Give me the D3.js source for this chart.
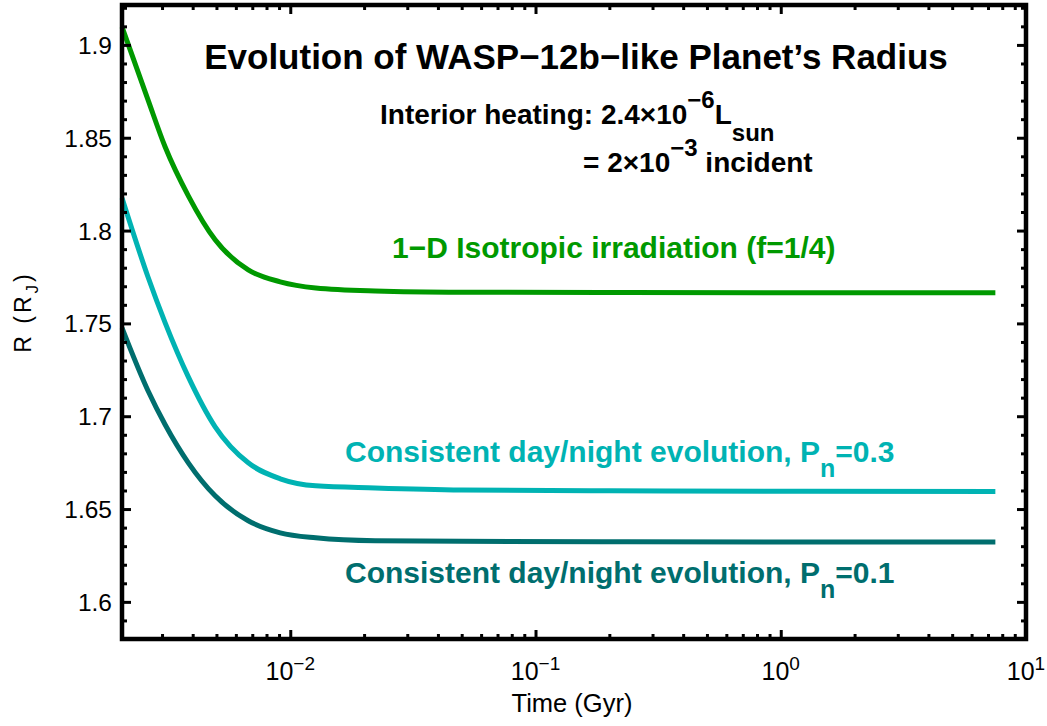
<!DOCTYPE html>
<html>
<head>
<meta charset="utf-8">
<script src="https://cdn.jsdelivr.net/npm/d3@7"></script>
<style>
  body { margin: 0; background: #fff; }
  svg { font-family: 'Liberation Sans', Arial, sans-serif; }
</style>
</head>
<body>
<div id="chart-area"></div>
<script>
'use strict';
const svg_width = 1047;
const svg_height = 726;

// time in Gyr, shared by all three runs
const time_gyr = [0.00206, 0.00263, 0.00309, 0.00384, 0.00494, 0.00674, 0.0091, 0.0127, 0.0222, 0.05, 0.2, 1, 7.5];
const r_isotropic = [1.9097, 1.8704, 1.845, 1.8187, 1.795, 1.7788, 1.7724, 1.7691, 1.7675, 1.7668, 1.7666, 1.7665, 1.7665];
const r_pn03 = [1.8176, 1.775, 1.7503, 1.7212, 1.6943, 1.6749, 1.6663, 1.6625, 1.6614, 1.6603, 1.6598, 1.6596, 1.6595];
const r_pn01 = [1.7476, 1.7137, 1.6954, 1.6749, 1.6571, 1.6437, 1.6372, 1.6345, 1.6329, 1.6326, 1.6324, 1.6323, 1.6323];

const x_major = [0.01, 0.1, 1, 10];
const x_major_exp = ['−2', '−1', '0', '1'];
const y_major = [1.6, 1.65, 1.7, 1.75, 1.8, 1.85, 1.9];
const y_major_labels = ['1.6', '1.65', '1.7', '1.75', '1.8', '1.85', '1.9'];

const plot_left = 122, plot_right = 1026, plot_top = 5, plot_bottom = 639;

const svg = d3.select('#chart-area')
  .append('svg')
    .attr('width', svg_width)
    .attr('height', svg_height);

const x_scale = d3.scaleLog().domain([0.00206, 10]).range([plot_left, plot_right]);
const y_scale = d3.scaleLinear().domain([1.58, 1.9215]).range([plot_bottom, plot_top]);

// minor ticks
const x_minor = [];
[0.001, 0.01, 0.1, 1].forEach(d => {
  for (let k = 2; k <= 9; k++) {
    const v = d * k;
    if (v > 0.00206 && v < 10) x_minor.push(v);
  }
});
const y_minor = d3.range(158, 193).map(v => v / 100).filter(v => y_major.indexOf(v) < 0);

const series = [
  { values: r_isotropic, color: '#009900' },
  { values: r_pn03, color: '#00b3b3' },
  { values: r_pn01, color: '#006e6e' }
];

const line = d3.line()
  .x((d, i) => x_scale(time_gyr[i]))
  .y(d => y_scale(d))
  .curve(d3.curveMonotoneX);

svg.selectAll('path.curve').data(series).enter()
  .append('path')
    .attr('class', 'curve')
    .attr('d', d => line(d.values))
    .attr('fill', 'none')
    .attr('stroke', d => d.color)
    .attr('stroke-width', 5);

function styleAxis(g) {
  g.select('.domain').remove();
  g.selectAll('.tick line').attr('stroke', '#000').attr('stroke-width', 3);
  g.selectAll('.tick text').remove();
}

// bottom / top axes (ticks pointing inward)
svg.append('g').attr('transform', `translate(0,${plot_bottom})`)
  .call(d3.axisBottom(x_scale).tickValues(x_major).tickSize(-9).tickFormat(''))
  .call(styleAxis);
svg.append('g').attr('transform', `translate(0,${plot_bottom})`)
  .call(d3.axisBottom(x_scale).tickValues(x_minor).tickSize(-5).tickFormat(''))
  .call(styleAxis);
svg.append('g').attr('transform', `translate(0,${plot_top})`)
  .call(d3.axisTop(x_scale).tickValues(x_major).tickSize(-9).tickFormat(''))
  .call(styleAxis);
svg.append('g').attr('transform', `translate(0,${plot_top})`)
  .call(d3.axisTop(x_scale).tickValues(x_minor).tickSize(-5).tickFormat(''))
  .call(styleAxis);

// left / right axes
svg.append('g').attr('transform', `translate(${plot_left},0)`)
  .call(d3.axisLeft(y_scale).tickValues(y_major).tickSize(-9).tickFormat(''))
  .call(styleAxis);
svg.append('g').attr('transform', `translate(${plot_left},0)`)
  .call(d3.axisLeft(y_scale).tickValues(y_minor).tickSize(-5).tickFormat(''))
  .call(styleAxis);
svg.append('g').attr('transform', `translate(${plot_right},0)`)
  .call(d3.axisRight(y_scale).tickValues(y_major).tickSize(-9).tickFormat(''))
  .call(styleAxis);
svg.append('g').attr('transform', `translate(${plot_right},0)`)
  .call(d3.axisRight(y_scale).tickValues(y_minor).tickSize(-5).tickFormat(''))
  .call(styleAxis);

// frame
svg.append('rect')
  .attr('x', plot_left).attr('y', plot_top)
  .attr('width', plot_right - plot_left).attr('height', plot_bottom - plot_top)
  .attr('fill', 'none').attr('stroke', '#000').attr('stroke-width', 4.5);

// y tick labels
svg.selectAll('text.ylab').data(y_major).enter()
  .append('text')
    .attr('class', 'ylab')
    .attr('x', plot_left - 10)
    .attr('y', d => y_scale(d) + 9)
    .attr('text-anchor', 'end')
    .attr('font-size', 24.5)
    .text((d, i) => y_major_labels[i]);

// x tick labels with exponents
const xl = svg.selectAll('text.xlab').data(x_major).enter()
  .append('text')
    .attr('class', 'xlab')
    .attr('x', d => x_scale(d))
    .attr('y', 680)
    .attr('text-anchor', 'middle')
    .attr('font-size', 25);
xl.append('tspan').text('10');
xl.append('tspan').attr('dy', -10).attr('font-size', 19).text((d, i) => x_major_exp[i]);

// axis titles
svg.append('text')
  .attr('x', 572).attr('y', 712)
  .attr('text-anchor', 'middle')
  .attr('font-size', 25.5)
  .text('Time (Gyr)');

const ylab = svg.append('text')
  .attr('transform', 'translate(31,312) rotate(-90)')
  .attr('text-anchor', 'middle')
  .attr('letter-spacing', 3)
  .attr('font-size', 23);
ylab.append('tspan').text('R (R');
ylab.append('tspan').attr('dy', 7).attr('font-size', 17).text('J');
ylab.append('tspan').attr('dy', -7).text(')');

// annotations
const ann = svg.append('g').attr('font-weight', 'bold');

ann.append('text')
  .attr('x', 576).attr('y', 69)
  .attr('text-anchor', 'middle')
  .attr('font-size', 35)
  .text('Evolution of WASP−12b−like Planet’s Radius');

const t1 = ann.append('text').attr('x', 380).attr('y', 124).attr('font-size', 28);
t1.append('tspan').text('Interior heating: 2.4×10');
t1.append('tspan').attr('dy', -16).attr('font-size', 24).text('−6');
t1.append('tspan').attr('dy', 16).text('L');
t1.append('tspan').attr('dy', 17).attr('font-size', 24).text('sun');

const t2 = ann.append('text').attr('x', 583).attr('y', 172).attr('font-size', 28);
t2.append('tspan').text('= 2×10');
t2.append('tspan').attr('dy', -16).attr('font-size', 24).text('−3');
t2.append('tspan').attr('dy', 16).text(' incident');

ann.append('text')
  .attr('x', 392).attr('y', 258)
  .attr('font-size', 30)
  .attr('fill', series[0].color)
  .text('1−D Isotropic irradiation (f=1/4)');

[['0.3', 462, series[1].color], ['0.1', 583, series[2].color]].forEach(([pn, yy, c]) => {
  const t = ann.append('text').attr('x', 345).attr('y', yy).attr('font-size', 30).attr('fill', c);
  t.append('tspan').text('Consistent day/night evolution, P');
  t.append('tspan').attr('dy', 15).attr('font-size', 25).text('n');
  t.append('tspan').attr('dy', -15).text('=' + pn);
});
</script>
</body>
</html>
